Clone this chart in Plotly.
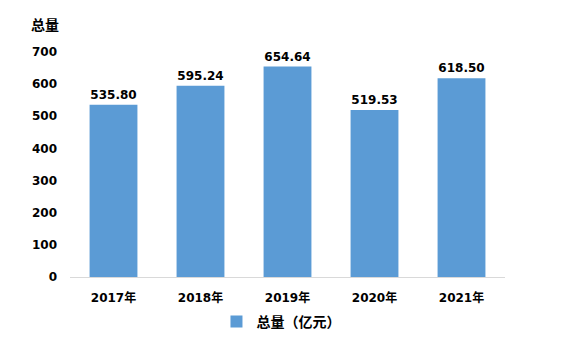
import plotly.graph_objects as go

years = ["2017年", "2018年", "2019年", "2020年", "2021年"]
values = [535.80, 595.24, 654.64, 519.53, 618.50]
series_name = "总量（亿元）"
y_title = "总量"
y_ticks = [0, 100, 200, 300, 400, 500, 600, 700]

FONT = "DejaVu Sans, Noto Sans CJK SC, sans-serif"
BLUE = "#5b9bd5"

fig = go.Figure()
fig.add_trace(go.Bar(
    x=years, y=values, name=series_name,
    marker=dict(color=BLUE, line=dict(width=0)),
    width=0.55,
    text=[f"{v:.2f}" for v in values],
    textposition="outside",
    textfont=dict(family=FONT, size=12, color="#000000", weight="bold"),
    cliponaxis=False,
    showlegend=True,
))

fig.update_layout(
    width=567, height=344,
    margin=dict(l=70, r=62, t=52, b=67, autoexpand=False),
    paper_bgcolor="white", plot_bgcolor="white",
    font=dict(family=FONT, size=12, color="#000000", weight="bold"),
    bargap=0.45,
    showlegend=True,
    legend=dict(orientation="h", x=0.485, xanchor="center", y=-0.2, yanchor="middle",
                font=dict(family=FONT, size=14, color="#000000", weight="bold"),
                itemwidth=30),
    xaxis=dict(showline=True, linecolor="#d9d9d9", linewidth=1, ticks="",
               ticklabelstandoff=10,
               tickfont=dict(family=FONT, size=12, color="#000000", weight="bold"),
               fixedrange=True),
    yaxis=dict(range=[0, 700], tickvals=y_ticks, showgrid=False, zeroline=False,
               showline=False, ticks="", ticklabelstandoff=12,
               tickfont=dict(family=FONT, size=12, color="#000000", weight="bold")),
    annotations=[dict(text=y_title, xref="paper", yref="paper", x=-0.02, y=1.12,
                      xanchor="right", yanchor="middle", showarrow=False,
                      font=dict(family=FONT, size=14, color="#000000", weight="bold"))],
)

fig.write_html("out.html")
